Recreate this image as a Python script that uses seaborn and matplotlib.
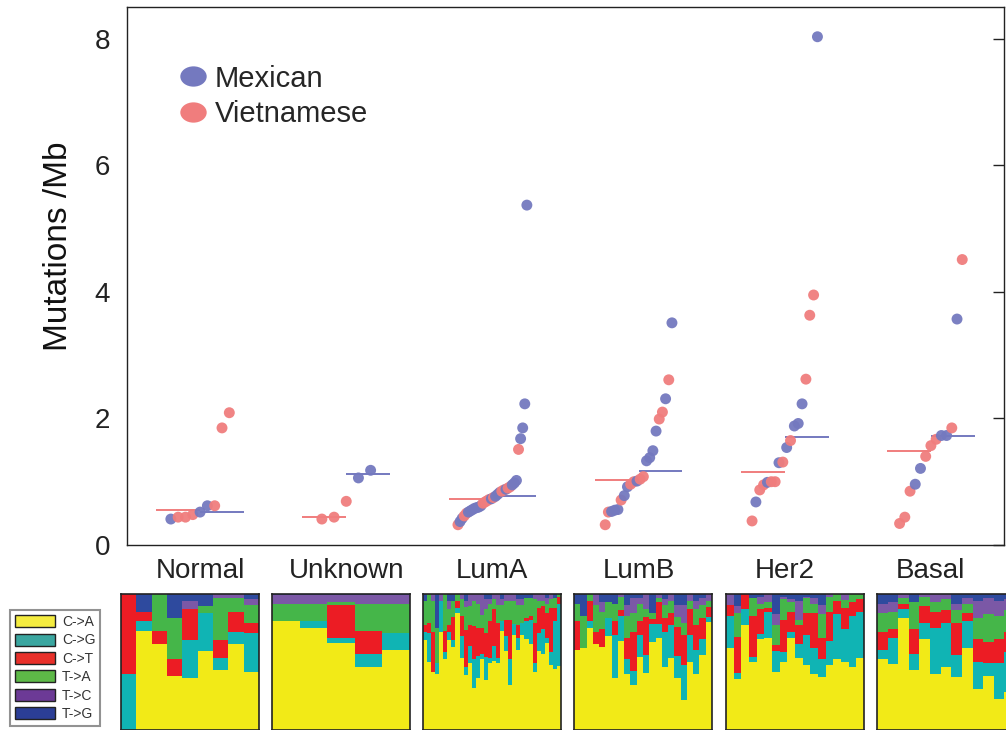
import numpy as np
import pandas as pd
import matplotlib
matplotlib.use("Agg")
import matplotlib.pyplot as plt
import seaborn as sns
from matplotlib.patches import Patch
from matplotlib.lines import Line2D
from matplotlib.path import Path
from matplotlib.transforms import Affine2D

sns.set_theme(style="white")
plt.rcParams['font.family'] = ['Liberation Sans', 'DejaVu Sans']

# ---------------- data ----------------
categories = ["Normal", "Unknown", "LumA", "LumB", "Her2", "Basal"]

normal_mex = [0.41, 0.52, 0.62]
normal_viet = [0.44, 0.44, 0.48, 0.62, 1.85, 2.09]
unknown_mex = [1.06, 1.18]
unknown_viet = [0.41, 0.44, 0.69]
luma_mex = [0.37, 0.42, 0.52, 0.54, 0.56, 0.58, 0.59, 0.60, 0.62, 0.73, 0.77,
            0.80, 0.83, 0.88, 0.95, 0.98, 1.02, 1.68, 1.85, 2.23, 5.37]
luma_viet = [0.32, 0.46, 0.50, 0.66, 0.68, 0.70, 0.72, 0.75, 0.85, 0.87, 0.90,
             0.92, 1.51]
lumb_mex = [0.53, 0.55, 0.56, 0.78, 0.92, 1.01, 1.33, 1.38, 1.49, 1.80, 2.31, 3.51]
lumb_viet = [0.32, 0.52, 0.71, 0.96, 1.00, 1.04, 1.08, 1.99, 2.10, 2.61]
her2_mex = [0.68, 0.99, 1.30, 1.54, 1.88, 1.92, 2.23, 8.03]
her2_viet = [0.38, 0.87, 0.95, 1.00, 1.00, 1.31, 1.65, 2.62, 3.63, 3.95]
basal_mex = [0.96, 1.21, 1.73, 1.73, 3.57]
basal_viet = [0.34, 0.44, 0.85, 1.40, 1.57, 1.67, 1.85, 4.51]

mutation_types = ["C->A", "C->G", "C->T", "T->A", "T->C", "T->G"]
# per-sample spectra, columns in the order of mutation_types (percent)
normal_spectrum = [
    [0, 41, 59, 0, 0, 0], [73, 7, 7, 0, 0, 13], [63, 0, 10, 27, 0, 0],
    [40, 0, 12, 30, 0, 18], [38, 28, 23, 0, 6, 5], [58, 28, 0, 5, 0, 9],
    [44, 9, 13, 31, 3, 0], [63, 9, 15, 10, 3, 0], [43, 28, 8, 13, 4, 4]]
unknown_spectrum = [
    [80, 0, 0, 13, 6, 1], [75, 5, 0, 13, 6, 1], [64, 4, 24, 2, 5, 1],
    [46, 10, 17, 20, 6, 1], [59, 12, 0, 22, 6, 1]]
luma_spectrum = [
    [66, 6, 5, 18, 0, 5], [47, 20, 7, 20, 0, 0], [43, 0, 29, 23, 5, 0],
    [41, 8, 0, 26, 0, 25], [72, 23, 0, 0, 5, 0], [52, 5, 16, 27, 0, 0],
    [66, 6, 5, 12, 6, 5], [61, 5, 17, 12, 0, 5], [86, 4, 5, 5, 0, 0],
    [53, 16, 15, 12, 4, 0], [41, 6, 27, 17, 5, 5], [49, 13, 15, 14, 9, 0],
    [30, 21, 24, 18, 5, 0], [38, 16, 20, 18, 7, 0], [52, 3, 19, 10, 15, 0],
    [37, 17, 18, 18, 7, 4], [49, 4, 27, 13, 3, 4], [51, 11, 27, 7, 4, 0],
    [49, 4, 26, 13, 8, 0], [73, 7, 0, 12, 4, 4], [58, 11, 12, 14, 5, 0],
    [33, 19, 28, 14, 5, 0], [70, 8, 0, 17, 5, 0], [59, 9, 9, 15, 4, 4],
    [70, 9, 0, 13, 4, 4], [67, 13, 2, 15, 0, 3], [63, 18, 3, 13, 0, 3],
    [43, 6, 30, 17, 4, 0], [58, 13, 19, 5, 5, 0], [56, 18, 17, 4, 5, 0],
    [64, 4, 18, 7, 4, 3], [47, 10, 32, 6, 4, 0], [45, 35, 10, 7, 0, 3],
    [47, 46, 5, 2, 0, 0]]
lumb_spectrum = [
    [59, 0, 21, 13, 0, 7], [60, 0, 0, 24, 0, 16], [75, 5, 15, 5, 0, 0],
    [63, 0, 9, 20, 8, 0], [61, 0, 13, 13, 7, 6], [69, 13, 0, 12, 0, 6],
    [38, 31, 10, 13, 0, 7], [65, 18, 4, 10, 2, 0], [41, 11, 16, 16, 8, 8],
    [33, 10, 28, 14, 11, 3], [54, 16, 10, 13, 4, 3], [42, 13, 28, 6, 11, 0],
    [64, 13, 4, 4, 0, 14], [67, 10, 16, 3, 2, 1], [46, 26, 10, 10, 4, 4],
    [53, 24, 9, 9, 5, 0], [38, 16, 21, 7, 9, 8], [22, 25, 22, 9, 13, 8],
    [50, 20, 19, 6, 5, 0], [41, 18, 18, 12, 6, 5], [55, 12, 15, 10, 5, 3],
    [80, 4, 7, 5, 5, 0]]
her2_spectrum = [
    [60, 24, 8, 0, 8, 0], [38, 4, 27, 18, 5, 9], [77, 12, 11, 0, 0, 0],
    [50, 4, 30, 13, 0, 3], [66, 4, 18, 4, 5, 2], [68, 19, 3, 4, 6, 0],
    [43, 16, 4, 15, 8, 15], [50, 7, 24, 15, 2, 2], [68, 4, 15, 7, 2, 4],
    [53, 10, 14, 4, 14, 5], [47, 22, 16, 11, 1, 2], [41, 19, 26, 7, 4, 3],
    [39, 13, 16, 17, 7, 8], [47, 18, 21, 11, 2, 0], [52, 33, 10, 5, 0, 0],
    [53, 26, 16, 6, 5, 0], [46, 38, 10, 6, 0, 0], [53, 34, 9, 4, 0, 0]]
basal_spectrum = [
    [52, 7, 13, 14, 7, 7], [49, 19, 7, 13, 7, 6], [82, 7, 4, 4, 3, 0],
    [44, 12, 18, 20, 0, 6], [67, 12, 12, 7, 2, 0], [41, 34, 12, 7, 6, 0],
    [46, 33, 9, 8, 4, 0], [39, 16, 24, 9, 5, 7], [60, 20, 6, 7, 4, 3],
    [30, 20, 17, 15, 13, 5], [40, 10, 15, 21, 12, 3], [23, 26, 18, 17, 11, 5],
    [28, 29, 15, 16, 8, 4]]

# ---------------- styling ----------------
MEX_C = "#7479BF"
VIET_C = "#F07D7D"
bar_colors = ["#F2EA17", "#10B4B4", "#EC1C24", "#45B649", "#7B58A6", "#2E4A9E"]
legend_colors = ["#F4EC40", "#3AA6A0", "#E8302A", "#5DB947", "#6C3A96", "#2B3E96"]

W, H = 1006, 730
fig = plt.figure(figsize=(W / 100, H / 100), dpi=100)

# ---------------- main scatter ----------------
mex_lists = [normal_mex, unknown_mex, luma_mex, lumb_mex, her2_mex, basal_mex]
viet_lists = [normal_viet, unknown_viet, luma_viet, lumb_viet, her2_viet, basal_viet]

rows = []
for ci, cat in enumerate(categories):
    for v in mex_lists[ci]:
        rows.append((cat, ci, "Mexican", v))
    for v in viet_lists[ci]:
        rows.append((cat, ci, "Vietnamese", v))
df = pd.DataFrame(rows, columns=["subtype", "ci", "group", "value"])
df = df.sort_values(["ci", "value"], kind="stable").reset_index(drop=True)
df["rank"] = df.groupby("ci").cumcount()
df["n"] = df.groupby("ci")["value"].transform("size")
df["x"] = df["ci"] - 0.25 + (df["rank"] + 1) / (df["n"] + 1) * 0.5

ax = fig.add_axes([127 / W, 1 - 545 / H, 877 / W, 538 / H])
sns.scatterplot(data=df, x="x", y="value", hue="group",
                palette={"Mexican": MEX_C, "Vietnamese": VIET_C},
                s=62, linewidth=0, alpha=0.95, legend=False, ax=ax, zorder=3)

for ci in range(len(categories)):
    vm = np.median(viet_lists[ci])
    mm = np.median(mex_lists[ci])
    ax.hlines(vm, ci - 0.3, ci, color=VIET_C, lw=1.4, zorder=2)
    ax.hlines(mm, ci, ci + 0.3, color=MEX_C, lw=1.4, zorder=2)

ax.set_xlim(-0.5, len(categories) - 0.5)
ax.set_ylim(0, 8.5)
ax.set_xticks(range(len(categories)))
ax.set_xticklabels(categories)
ax.set_yticks([0, 2, 4, 6, 8])
ax.set_xlabel("")
ax.set_ylabel("Mutations /Mb", fontsize=24, color="#111111")
ax.yaxis.set_label_coords(-0.06, 0.555)
ax.tick_params(axis="both", direction="in", length=8, width=1, colors="#222222",
               labelsize=20, top=False, right=True, labelcolor="#222222")
ax.tick_params(axis="x", pad=9)
ax.tick_params(axis="y", pad=12)
for sp in ax.spines.values():
    sp.set_visible(True)
    sp.set_color("#222222")
    sp.set_linewidth(1.0)

ellipse = Path.unit_circle().transformed(Affine2D().scale(1.3, 1.0))
handles = [Line2D([0], [0], marker=ellipse, linestyle="none", markersize=19,
                  markerfacecolor=MEX_C, markeredgewidth=0, label="Mexican"),
           Line2D([0], [0], marker=ellipse, linestyle="none", markersize=19,
                  markerfacecolor=VIET_C, markeredgewidth=0, label="Vietnamese")]
ax.legend(handles=handles, loc="upper left", bbox_to_anchor=(0.055, 0.893),
          frameon=False, fontsize=21, handletextpad=0.15, labelspacing=0.27,
          borderaxespad=0, borderpad=0, handlelength=1.2)

# ---------------- spectrum panels ----------------
spectra = [normal_spectrum, unknown_spectrum, luma_spectrum, lumb_spectrum,
           her2_spectrum, basal_spectrum]
panel_left = [121, 272, 423, 574, 726, 877]
panel_w = 138
panel_top = 594
for spec, left in zip(spectra, panel_left):
    pax = fig.add_axes([left / W, 0, panel_w / W, (H - panel_top) / H])
    arr = np.array(spec, dtype=float)
    arr = arr / arr.sum(axis=1, keepdims=True)
    xs = np.arange(len(arr))
    bottom = np.zeros(len(arr))
    for k in range(len(mutation_types)):
        pax.bar(xs, arr[:, k], bottom=bottom, width=1.0, color=bar_colors[k],
                linewidth=0)
        bottom += arr[:, k]
    pax.set_xlim(-0.5, len(arr) - 0.5)
    pax.set_ylim(0, 1)
    pax.set_xticks([])
    pax.set_yticks([])
    for sp in pax.spines.values():
        sp.set_visible(True)
        sp.set_color("#222222")
        sp.set_linewidth(1.2)

patches = [Patch(facecolor=c, edgecolor="#222222", linewidth=1.0, label=m)
           for c, m in zip(legend_colors, mutation_types)]
leg2 = fig.legend(handles=patches, loc="upper left",
                  bbox_to_anchor=(10 / W, 1 - 610 / H), fontsize=10,
                  frameon=True, fancybox=False, edgecolor="#777777",
                  handlelength=2.9, handleheight=0.95, labelspacing=0.32,
                  handletextpad=0.5, borderpad=0.35, borderaxespad=0)
leg2.get_frame().set_linewidth(1.5)
for t in leg2.get_texts():
    t.set_color("#333333")

fig.savefig("out.png", dpi=100)
